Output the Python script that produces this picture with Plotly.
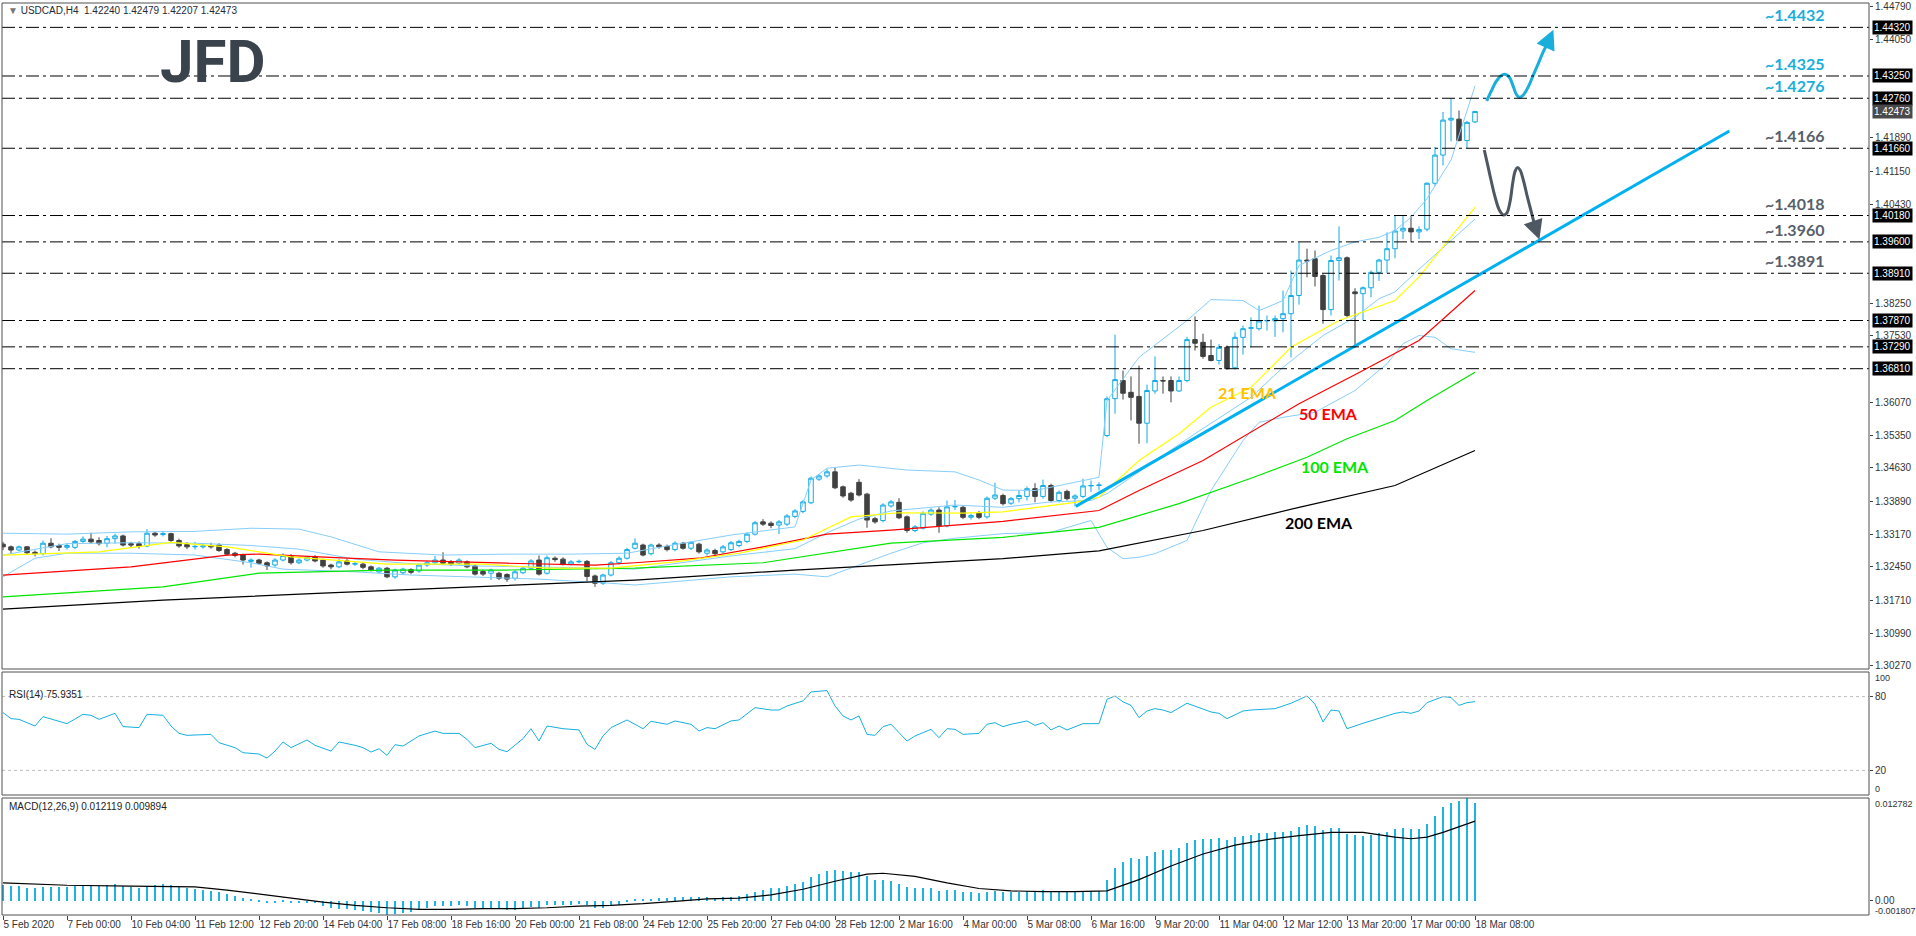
import plotly.graph_objects as go

W, H = 1916, 936

# ---------------- data ----------------
bars = list(range(185))

opens = [1.3295,1.3289,1.3282,1.3289,1.3277,1.3274,1.3297,1.3292,1.3288,1.3288,
         1.3301,1.3306,1.3303,1.3297,1.3307,1.3313,1.3296,1.3296,1.3291,1.3319,
         1.3316,1.3318,1.3303,1.3294,1.3289,1.3289,1.3292,1.3293,1.3283,1.3275,
         1.3271,1.3257,1.3260,1.3254,1.3249,1.3260,1.3269,1.3254,1.3260,1.3267,
         1.3260,1.3249,1.3245,1.3258,1.3251,1.3251,1.3245,1.3234,1.3242,1.3223,
         1.3232,1.3239,1.3236,1.3249,1.3254,1.3260,1.3256,1.3253,1.3256,1.3247,
         1.3235,1.3231,1.3231,1.3228,1.3220,1.3232,1.3242,1.3260,1.3231,1.3264,
         1.3262,1.3251,1.3256,1.3257,1.3225,1.3209,1.3227,1.3254,1.3264,1.3286,
         1.3293,1.3274,1.3293,1.3290,1.3283,1.3297,1.3286,1.3295,1.3275,1.3281,
         1.3278,1.3283,1.3292,1.3301,1.3317,1.3344,1.3341,1.3337,1.3339,1.3356,
         1.3367,1.3386,1.3438,1.3445,1.3454,1.3421,1.3407,1.3431,1.3405,1.3351,
         1.3347,1.3379,1.3387,1.3355,1.3325,1.3330,1.3361,1.3370,1.3335,1.3377,
         1.3376,1.3354,1.3364,1.3355,1.3396,1.3402,1.3385,1.3395,1.3400,1.3417,
         1.3400,1.3424,1.3391,1.3411,1.3396,1.3400,1.3423,1.3424,1.3534,1.3615,
         1.3655,1.3629,1.3620,1.3561,1.3632,1.3655,1.3655,1.3632,1.3655,1.3745,
         1.3739,1.3710,1.3699,1.3728,1.3683,1.3750,1.3770,1.3769,1.3786,1.3786,
         1.3791,1.3802,1.3842,1.3920,1.3923,1.3886,1.3811,1.3919,1.3925,1.3850,
         1.3846,1.3859,1.3893,1.3920,1.3945,1.3984,1.3990,1.3982,1.3988,1.4089,
         1.4151,1.4228,1.4230,1.4183,1.4224]
highs = [1.3300,1.3292,1.3292,1.3291,1.3281,1.3303,1.3308,1.3296,1.3297,1.3304,
         1.3312,1.3320,1.3310,1.3313,1.3318,1.3316,1.3300,1.3301,1.3328,1.3322,
         1.3324,1.3320,1.3307,1.3299,1.3300,1.3297,1.3298,1.3297,1.3286,1.3278,
         1.3274,1.3264,1.3263,1.3257,1.3264,1.3275,1.3273,1.3264,1.3269,1.3271,
         1.3263,1.3252,1.3262,1.3262,1.3257,1.3255,1.3248,1.3245,1.3245,1.3241,
         1.3243,1.3242,1.3252,1.3258,1.3269,1.3277,1.3260,1.3264,1.3259,1.3250,
         1.3239,1.3241,1.3234,1.3231,1.3238,1.3246,1.3262,1.3270,1.3270,1.3268,
         1.3266,1.3260,1.3261,1.3260,1.3228,1.3230,1.3258,1.3268,1.3287,1.3308,
         1.3296,1.3296,1.3297,1.3294,1.3301,1.3300,1.3302,1.3298,1.3286,1.3285,
         1.3293,1.3302,1.3305,1.3321,1.3346,1.3350,1.3345,1.3348,1.3361,1.3372,
         1.3392,1.3444,1.3449,1.3460,1.3464,1.3424,1.3410,1.3438,1.3408,1.3355,
         1.3385,1.3392,1.3396,1.3358,1.3337,1.3367,1.3374,1.3376,1.3391,1.3392,
         1.3380,1.3362,1.3368,1.3400,1.3430,1.3406,1.3399,1.3413,1.3422,1.3429,
         1.3437,1.3428,1.3413,1.3415,1.3405,1.3439,1.3435,1.3431,1.3620,1.3756,
         1.3677,1.3664,1.3688,1.3646,1.3708,1.3664,1.3664,1.3664,1.3751,1.3796,
         1.3758,1.3745,1.3735,1.3732,1.3761,1.3776,1.3794,1.3820,1.3798,1.3798,
         1.3853,1.3897,1.3959,1.3945,1.3941,1.3889,1.3930,1.3994,1.3928,1.3858,
         1.3862,1.3897,1.3923,1.3981,1.4018,1.4018,1.4018,1.3994,1.4091,1.4169,
         1.4246,1.4276,1.4249,1.4226,1.4248]
lows = [1.3282,1.3275,1.3279,1.3272,1.3268,1.3270,1.3286,1.3280,1.3283,1.3284,
        1.3298,1.3296,1.3292,1.3288,1.3296,1.3290,1.3288,1.3285,1.3288,1.3311,
        1.3312,1.3298,1.3287,1.3284,1.3283,1.3285,1.3285,1.3278,1.3270,1.3266,
        1.3250,1.3243,1.3249,1.3238,1.3245,1.3257,1.3250,1.3251,1.3257,1.3255,
        1.3243,1.3240,1.3242,1.3248,1.3247,1.3240,1.3235,1.3231,1.3220,1.3219,
        1.3229,1.3229,1.3232,1.3245,1.3251,1.3249,1.3247,1.3250,1.3242,1.3226,
        1.3225,1.3216,1.3216,1.3212,1.3215,1.3229,1.3238,1.3226,1.3228,1.3256,
        1.3248,1.3248,1.3253,1.3213,1.3201,1.3205,1.3224,1.3250,1.3261,1.3283,
        1.3268,1.3270,1.3285,1.3279,1.3279,1.3283,1.3282,1.3274,1.3270,1.3270,
        1.3274,1.3280,1.3288,1.3297,1.3314,1.3335,1.3330,1.3317,1.3335,1.3352,
        1.3363,1.3383,1.3434,1.3441,1.3416,1.3397,1.3388,1.3400,1.3331,1.3340,
        1.3343,1.3375,1.3350,1.3320,1.3321,1.3327,1.3357,1.3320,1.3332,1.3370,
        1.3350,1.3349,1.3350,1.3351,1.3392,1.3380,1.3381,1.3387,1.3391,1.3387,
        1.3395,1.3387,1.3387,1.3391,1.3378,1.3396,1.3410,1.3413,1.3530,1.3582,
        1.3613,1.3567,1.3516,1.3517,1.3626,1.3626,1.3607,1.3630,1.3651,1.3721,
        1.3703,1.3697,1.3690,1.3679,1.3679,1.3712,1.3728,1.3765,1.3765,1.3751,
        1.3761,1.3706,1.3822,1.3882,1.3862,1.3780,1.3798,1.3875,1.3794,1.3728,
        1.3787,1.3838,1.3874,1.3891,1.3924,1.3966,1.3959,1.3966,1.3983,1.4083,
        1.4128,1.4181,1.4181,1.4166,1.4221]
closes = [1.3289,1.3282,1.3289,1.3276,1.3274,1.3297,1.3289,1.3288,1.3292,1.3301,
          1.3306,1.3300,1.3296,1.3307,1.3313,1.3293,1.3293,1.3290,1.3319,1.3315,
          1.3318,1.3303,1.3291,1.3289,1.3290,1.3291,1.3289,1.3281,1.3273,1.3270,
          1.3260,1.3260,1.3253,1.3247,1.3260,1.3270,1.3254,1.3260,1.3266,1.3258,
          1.3247,1.3245,1.3256,1.3251,1.3252,1.3244,1.3238,1.3242,1.3223,1.3238,
          1.3240,1.3233,1.3249,1.3254,1.3260,1.3253,1.3251,1.3260,1.3245,1.3229,
          1.3229,1.3238,1.3220,1.3218,1.3234,1.3242,1.3258,1.3229,1.3265,1.3261,
          1.3251,1.3256,1.3257,1.3224,1.3209,1.3227,1.3254,1.3264,1.3283,1.3297,
          1.3271,1.3293,1.3289,1.3283,1.3297,1.3286,1.3299,1.3278,1.3282,1.3274,
          1.3289,1.3298,1.3301,1.3317,1.3342,1.3339,1.3336,1.3344,1.3357,1.3368,
          1.3388,1.3440,1.3445,1.3454,1.3419,1.3401,1.3392,1.3403,1.3348,1.3344,
          1.3381,1.3388,1.3353,1.3325,1.3333,1.3363,1.3370,1.3335,1.3377,1.3378,
          1.3354,1.3358,1.3354,1.3396,1.3403,1.3384,1.3395,1.3402,1.3417,1.3400,
          1.3424,1.3391,1.3409,1.3395,1.3401,1.3423,1.3424,1.3425,1.3615,1.3657,
          1.3627,1.3618,1.3561,1.3633,1.3655,1.3654,1.3632,1.3655,1.3745,1.3737,
          1.3708,1.3699,1.3728,1.3681,1.3750,1.3769,1.3771,1.3786,1.3787,1.3791,
          1.3802,1.3842,1.3920,1.3918,1.3884,1.3811,1.3919,1.3925,1.3798,1.3846,
          1.3859,1.3893,1.3920,1.3945,1.3984,1.3990,1.3982,1.3987,1.4089,1.4151,
          1.4228,1.4232,1.4183,1.4223,1.4247]

ema21_x = [0, 12, 21, 28, 36, 48, 60, 68, 76, 84, 92, 100, 106, 112, 120, 125, 134, 137, 142, 147, 151, 156, 161, 167, 174, 177, 181, 184]
ema21_y = [1.3271, 1.3278, 1.3299, 1.3289, 1.3267, 1.3251, 1.3251, 1.3242, 1.3242, 1.3256, 1.3275, 1.3304, 1.3355, 1.3364, 1.3363, 1.3366, 1.3387, 1.3398, 1.3479, 1.3538, 1.3596, 1.3640, 1.3728, 1.3787, 1.3831, 1.3883, 1.3971, 1.4036]

ema50_x = [0, 16, 28, 32, 43, 49, 63, 74, 79, 87, 95, 103, 111, 125, 137, 142, 150, 162, 170, 177, 184]
ema50_y = [1.3227, 1.3245, 1.3271, 1.3273, 1.3264, 1.3260, 1.3253, 1.3249, 1.3254, 1.3264, 1.3289, 1.3317, 1.3326, 1.3345, 1.3369, 1.3413, 1.3479, 1.3604, 1.3677, 1.3743, 1.3853]

ema100_x = [0, 20, 32, 48, 63, 79, 95, 103, 111, 125, 137, 147, 156, 163, 168, 174, 178, 184]
ema100_y = [1.3179, 1.3201, 1.3231, 1.3238, 1.3238, 1.3242, 1.3254, 1.3275, 1.3297, 1.3310, 1.3332, 1.3384, 1.3440, 1.3486, 1.3527, 1.3567, 1.3611, 1.3673]

ema200_x = [0, 20, 40, 59, 79, 99, 125, 137, 150, 162, 174, 184]
ema200_y = [1.3152, 1.3172, 1.3187, 1.3201, 1.3216, 1.3238, 1.3263, 1.3280, 1.3325, 1.3376, 1.3424, 1.3501]

bb_up_x = [0, 8, 16, 24, 31, 37, 41, 47, 55, 63, 71, 78, 83, 91, 99, 101, 103, 107, 113, 119, 122, 125, 129, 137, 138, 142, 148, 151, 155, 157, 158, 160, 162, 166, 169, 172, 174, 176, 178, 181, 184]
bb_up_y = [1.3319, 1.3317, 1.3322, 1.3323, 1.3330, 1.3328, 1.3311, 1.3278, 1.3271, 1.3273, 1.3273, 1.3275, 1.3291, 1.3315, 1.3333, 1.3436, 1.3462, 1.3469, 1.3458, 1.3454, 1.3436, 1.3414, 1.3413, 1.3442, 1.3611, 1.3706, 1.3787, 1.3833, 1.3831, 1.3809, 1.3816, 1.3831, 1.3908, 1.3941, 1.3960, 1.3970, 1.3985, 1.4014, 1.4055, 1.4140, 1.4303]

bb_mid_x = [0, 8, 16, 24, 31, 37, 44, 51, 59, 67, 75, 79, 91, 99, 103, 107, 111, 119, 125, 131, 136, 138, 144, 149, 156, 160, 165, 169, 172, 174, 177, 184]
bb_mid_y = [1.3271, 1.3296, 1.3298, 1.3297, 1.3292, 1.3284, 1.3262, 1.3252, 1.3247, 1.3245, 1.3242, 1.3240, 1.3269, 1.3285, 1.3320, 1.3350, 1.3368, 1.3381, 1.3376, 1.3388, 1.3391, 1.3406, 1.3479, 1.3538, 1.3618, 1.3684, 1.3754, 1.3794, 1.3835, 1.3850, 1.3900, 1.4010]

bb_lo_x = [0, 4, 8, 16, 24, 31, 35, 44, 51, 59, 67, 75, 79, 91, 99, 103, 111, 115, 119, 125, 131, 136, 138, 140, 142, 144, 148, 151, 155, 157, 160, 164, 169, 173, 175, 177, 179, 181, 184]
bb_lo_y = [1.3223, 1.3264, 1.3275, 1.3275, 1.3271, 1.3254, 1.3240, 1.3234, 1.3227, 1.3223, 1.3218, 1.3210, 1.3205, 1.3223, 1.3229, 1.3223, 1.3275, 1.3298, 1.3308, 1.3318, 1.3321, 1.3347, 1.3288, 1.3263, 1.3266, 1.3274, 1.3303, 1.3413, 1.3523, 1.3563, 1.3574, 1.3585, 1.3633, 1.3692, 1.3736, 1.3754, 1.3750, 1.3725, 1.3717]

trend_x = [134.1, 215.8]
trend_y = [1.3378, 1.4204]

levels = [1.4432, 1.4325, 1.4276, 1.4166, 1.4018, 1.3960, 1.3891, 1.3787, 1.3729, 1.3681]
level_notes = ["~1.4432", "~1.4325", "~1.4276", "~1.4166", "~1.4018", "~1.3960", "~1.3891"]
level_note_up = [True, True, True, False, False, False, False]
current_price = 1.42473

# axis ticks that are not hidden behind the level boxes
price_ticks = [1.4479, 1.4405, 1.4189, 1.4115, 1.4043, 1.3825,
               1.3753, 1.3607, 1.3535, 1.3463, 1.3389, 1.3317, 1.3245, 1.3171, 1.3099, 1.3027]

rsi_x = [0,1,2,4,5,8,10,11,12,14,15,17,18,20,21,22,23,26,27,29,30,32,33,34,35,36,38,39,41,42,
         44,45,46,47,48,49,50,52,54,55,57,58,59,61,62,63,65,66,67,68,70,72,73,74,75,76,78,80,81,83,
         84,86,87,88,89,91,92,94,96,97,98,100,101,102,103,104,105,106,107,108,109,110,111,112,113,114,116,117,118,119,
         120,122,123,124,125,126,128,129,130,131,132,133,135,137,138,139,140,141,142,143,144,145,146,148,149,151,152,153,155,156,
         159,161,163,164,165,166,167,168,170,172,174,175,176,177,178,180,181,182,183,184]
rsi_y = [67.0,62.1,61.5,56.1,63.7,58.0,65.6,64.8,61.5,66.4,55.6,54.8,65.6,64.8,56.1,50.1,48.5,49.3,42.5,38.5,34.4,33.3,30.0,35.7,43.1,38.5,44.7,40.4,35.7,43.1,
         40.4,38.5,34.9,37.6,32.2,40.9,39.8,48.0,52.0,50.1,50.1,45.2,38.5,42.0,37.1,35.2,45.8,53.9,43.9,56.1,53.9,52.9,41.2,37.1,48.0,54.8,61.0,53.9,59.9,57.5,
         60.2,57.5,52.0,54.8,53.9,60.2,61.0,71.0,69.1,69.1,72.4,76.5,83.8,84.6,84.9,72.4,64.3,61.0,64.3,49.3,48.5,55.6,57.5,50.7,43.9,48.0,53.4,46.6,53.9,53.4,
         49.3,50.1,57.5,58.8,55.6,57.5,60.2,56.6,58.8,52.9,56.1,52.9,58.0,58.0,77.8,80.5,75.7,72.9,62.9,68.3,70.2,69.1,67.0,74.6,72.4,67.5,66.4,62.1,68.3,69.1,
         70.2,74.6,80.5,73.8,59.4,69.1,68.3,53.9,58.3,62.1,66.4,67.5,66.4,68.3,75.1,80.0,79.2,72.9,75.1,75.9]

macd_hist = [0.0019,0.0018,0.0018,0.0016,0.0015,0.0017,0.0017,0.0017,
             0.0017,0.0018,0.0019,0.0019,0.0018,0.0019,0.0020,0.0018,
             0.0017,0.0016,0.0018,0.0019,0.0020,0.0019,0.0017,0.0015,
             0.0014,0.0013,0.0012,0.0010,0.0008,0.0006,0.0003,0.0001,
             -0.0001,-0.0003,-0.0003,-0.0002,-0.0003,-0.0003,-0.0003,-0.0003,
             -0.0007,-0.0009,-0.0010,-0.0011,-0.0012,-0.0013,-0.0014,-0.0015,
             -0.0018,-0.0017,-0.0015,-0.0014,-0.0011,-0.0009,-0.0007,-0.0007,
             -0.0007,-0.0006,-0.0007,-0.0009,-0.0010,-0.0010,-0.0011,-0.0012,
             -0.0012,-0.0010,-0.0008,-0.0009,-0.0006,-0.0005,-0.0005,-0.0005,
             -0.0004,-0.0006,-0.0009,-0.0009,-0.0007,-0.0005,-0.0002,0.0001,
             0.0001,0.0002,0.0003,0.0003,0.0004,0.0004,0.0005,0.0004,
             0.0004,0.0003,0.0004,0.0005,0.0006,0.0008,0.0011,0.0013,
             0.0015,0.0016,0.0018,0.0020,0.0023,0.0029,0.0033,0.0037,
             0.0038,0.0037,0.0035,0.0035,0.0030,0.0026,0.0025,0.0024,
             0.0021,0.0017,0.0015,0.0015,0.0015,0.0012,0.0013,0.0013,
             0.0011,0.0010,0.0009,0.0011,0.0012,0.0011,0.0011,0.0011,
             0.0012,0.0012,0.0013,0.0011,0.0011,0.0010,0.0010,0.0011,
             0.0012,0.0012,0.0026,0.0040,0.0048,0.0053,0.0052,0.0056,
             0.0060,0.0063,0.0063,0.0065,0.0072,0.0076,0.0077,0.0077,
             0.0078,0.0076,0.0079,0.0081,0.0082,0.0084,0.0084,0.0085,
             0.0085,0.0087,0.0092,0.0094,0.0093,0.0088,0.0091,0.0091,
             0.0083,0.0082,0.0081,0.0082,0.0084,0.0086,0.0089,0.0090,
             0.0089,0.0089,0.0096,0.0105,0.0116,0.0122,0.0124,0.0128,0.0121]

sig_x = [0, 8, 16, 24, 28, 32, 36, 40, 44, 48, 52, 56, 60, 64, 68, 72, 76, 80, 84, 88, 92, 96, 100, 104, 108, 110, 114, 118, 122, 126, 130, 134, 138, 142, 146, 150, 154, 158, 162, 166, 170, 174, 176, 178, 180, 182, 184]
sig_y = [0.0022, 0.0019, 0.0018, 0.0017, 0.0013, 0.0008, 0.0003, -0.0002, -0.0006, -0.0009, -0.0011, -0.0011, -0.0010, -0.0010, -0.0009, -0.0007, -0.0006, -0.0004, -0.0001, 0.0002, 0.0003, 0.0007, 0.0014, 0.0024, 0.0033, 0.0034, 0.0030, 0.0022, 0.0015, 0.0012, 0.0011, 0.0011, 0.0012, 0.0026, 0.0043, 0.0058, 0.0069, 0.0076, 0.0081, 0.0085, 0.0085, 0.0079, 0.0077, 0.0079, 0.0085, 0.0092, 0.0099]

tick_labels = ["5 Feb 2020", "7 Feb 00:00", "10 Feb 04:00", "11 Feb 12:00", "12 Feb 20:00",
               "14 Feb 04:00", "17 Feb 08:00", "18 Feb 16:00", "20 Feb 00:00", "21 Feb 08:00",
               "24 Feb 12:00", "25 Feb 20:00", "27 Feb 04:00", "28 Feb 12:00", "2 Mar 16:00",
               "4 Mar 00:00", "5 Mar 08:00", "6 Mar 16:00", "9 Mar 20:00", "11 Mar 04:00",
               "12 Mar 12:00", "13 Mar 20:00", "17 Mar 00:00", "18 Mar 08:00"]
tick_bars = list(range(0, 185, 8))

# hand-drawn scenario arrows (bar index, price)
up_path_x = [185.46, 186.0, 186.63, 187.21, 187.75, 188.29, 188.79, 189.21, 189.54, 190.04, 190.67, 191.29, 191.92, 192.54, 192.96]
up_path_y = [1.4270, 1.42905, 1.43125, 1.4325, 1.43287, 1.43221, 1.43015, 1.42832, 1.42781, 1.42832, 1.43015, 1.43272, 1.43529, 1.43785, 1.43932]
up_tip = (193.8, 1.4427)
dn_path_x = [185.16, 185.54, 186.0, 186.5, 187.04, 187.54, 187.96, 188.38, 188.71, 189.0, 189.29, 189.63, 190.04, 190.54, 191.08, 191.5]
dn_path_y = [1.41622, 1.41329, 1.40962, 1.40594, 1.40302, 1.40192, 1.40229, 1.40484, 1.40889, 1.41146, 1.41234, 1.41182, 1.40962, 1.40594, 1.40229, 1.39934]
dn_tip = (192.05, 1.3965)

# ---------------- styling / geometry ----------------
CYAN = "#12ABE3"
DARK = "#404040"
BB = "#87CEFA"
FONT = "Liberation Sans"

X_L, X_R = 2, 1869
MAIN = (3, 669)
RSI = (672, 795)
MACD = (798, 915)

def dom_y(top, bot):
    return [1 - bot / H, 1 - top / H]

def px2bar(px):
    return (px - 3) / 8.0

def px2price(py):
    return 1.4479 - (py - 6) / 4545.0

fig = go.Figure()

fig.add_trace(go.Candlestick(
    x=bars, open=opens, high=highs, low=lows, close=closes,
    increasing=dict(line=dict(color=CYAN, width=1), fillcolor="white"),
    decreasing=dict(line=dict(color=DARK, width=1), fillcolor=DARK),
    whiskerwidth=0, xaxis="x", yaxis="y", hoverinfo="skip"))

for xs, ys in [(bb_up_x, bb_up_y), (bb_mid_x, bb_mid_y), (bb_lo_x, bb_lo_y)]:
    fig.add_trace(go.Scatter(x=xs, y=ys, mode="lines", line=dict(color=BB, width=1),
                             xaxis="x", yaxis="y", hoverinfo="skip"))
for xs, ys, col in [(ema200_x, ema200_y, "#000000"), (ema100_x, ema100_y, "#00E600"),
                    (ema50_x, ema50_y, "#FF0000"), (ema21_x, ema21_y, "#FFFF00")]:
    fig.add_trace(go.Scatter(x=xs, y=ys, mode="lines", line=dict(color=col, width=1.2),
                             xaxis="x", yaxis="y", hoverinfo="skip"))

fig.add_trace(go.Scatter(x=trend_x, y=trend_y, mode="lines", line=dict(color="#00B0F0", width=3),
                         xaxis="x", yaxis="y", hoverinfo="skip"))

fig.add_trace(go.Scatter(x=up_path_x, y=up_path_y, mode="lines", line=dict(color="#1AAEDB", width=3, shape="spline"),
                         xaxis="x", yaxis="y", hoverinfo="skip"))
fig.add_trace(go.Scatter(x=dn_path_x, y=dn_path_y, mode="lines", line=dict(color="#4E5862", width=3, shape="spline"),
                         xaxis="x", yaxis="y", hoverinfo="skip"))

# RSI
fig.add_trace(go.Scatter(x=rsi_x, y=rsi_y, mode="lines", line=dict(color="#16B0E0", width=1),
                         xaxis="x", yaxis="y2", hoverinfo="skip"))
# MACD
fig.add_trace(go.Bar(x=bars, y=macd_hist, width=0.2, marker=dict(color="#1CB4E2", line=dict(width=0)),
                     xaxis="x", yaxis="y3", hoverinfo="skip"))
fig.add_trace(go.Scatter(x=sig_x, y=sig_y, mode="lines", line=dict(color="#000000", width=1.2),
                         xaxis="x", yaxis="y3", hoverinfo="skip"))

shapes = []
for lv in levels:
    shapes.append(dict(type="line", xref="x domain", yref="y", x0=0, x1=1, y0=lv, y1=lv,
                       line=dict(color="#000000", width=1, dash="13px,4px,3px,4px")))
for lv in [80, 20]:
    shapes.append(dict(type="line", xref="x domain", yref="y2", x0=0, x1=1, y0=lv, y1=lv,
                       line=dict(color="#BDBDBD", width=1, dash="3px,3px")))
for yr in ["y domain", "y2 domain", "y3 domain"]:
    shapes.append(dict(type="rect", xref="x domain", yref=yr, x0=0, x1=1, y0=0, y1=1,
                       line=dict(color="#505050", width=1), fillcolor="rgba(0,0,0,0)"))

ann = []
ann.append(dict(xref="paper", yref="paper", x=6 / W, y=1 - 11 / H, xanchor="left", yanchor="middle",
                text='<span style="color:#777">▼</span> USDCAD,H4  1.42240 1.42479 1.42207 1.42473',
                showarrow=False, font=dict(family=FONT, size=10, color="#1E2A38")))
ann.append(dict(xref="paper", yref="paper", x=212 / W, y=1 - 62 / H, xanchor="center", yanchor="middle",
                text="<b>JFD</b>", showarrow=False, font=dict(family="Roboto", size=60, color="#3A434C")))
ann.append(dict(xref="paper", yref="paper", x=7 / W, y=1 - 694 / H, xanchor="left", yanchor="middle",
                text="RSI(14) 75.9351", showarrow=False, font=dict(family=FONT, size=10, color="#222")))
ann.append(dict(xref="paper", yref="paper", x=7 / W, y=1 - 806 / H, xanchor="left", yanchor="middle",
                text="MACD(12,26,9) 0.012119 0.009894", showarrow=False, font=dict(family=FONT, size=10, color="#222")))

for lv in levels:
    ann.append(dict(xref="paper", yref="y", x=1872 / W, y=lv, xanchor="left", yanchor="middle",
                    text="%.5f" % lv, showarrow=False, bgcolor="#000000", borderpad=1,
                    font=dict(family=FONT, size=10, color="#FFFFFF")))
ann.append(dict(xref="paper", yref="y", x=1872 / W, y=current_price, xanchor="left", yanchor="middle",
                text="%.5f" % current_price, showarrow=False, bgcolor="#4A4A4A", borderpad=1,
                font=dict(family=FONT, size=10, color="#FFFFFF")))

note_x = px2bar(1794)
for txt, lv, up in zip(level_notes, levels, level_note_up):
    ann.append(dict(xref="x", yref="y", x=note_x, y=lv, xanchor="center", yanchor="bottom", yshift=1,
                    text="<b>%s</b>" % txt, showarrow=False,
                    font=dict(family="Lato", size=16, color="#1AAEDB" if up else "#57606A")))

for txt, bx, py, col in [("21 EMA", 1247, 392, "#FFC000"), ("50 EMA", 1328, 413, "#FF0000"),
                         ("100 EMA", 1335, 466, "#00E600"), ("200 EMA", 1319, 522, "#000000")]:
    ann.append(dict(xref="x", yref="y", x=px2bar(bx), y=px2price(py), xanchor="center", yanchor="middle",
                    text="<b>%s</b>" % txt, showarrow=False, font=dict(family="Lato", size=16, color=col)))

ann.append(dict(xref="x", yref="y", x=up_tip[0], y=up_tip[1], axref="x", ayref="y",
                ax=up_path_x[-1], ay=up_path_y[-1], text="", showarrow=True, arrowhead=2,
                arrowsize=1.3, arrowwidth=3, arrowcolor="#1AAEDB", standoff=0))
ann.append(dict(xref="x", yref="y", x=dn_tip[0], y=dn_tip[1], axref="x", ayref="y",
                ax=dn_path_x[-1], ay=dn_path_y[-1], text="", showarrow=True, arrowhead=2,
                arrowsize=1.3, arrowwidth=3, arrowcolor="#4E5862", standoff=0))

for txt, py in [("100", 678), ("0", 789), ("0.012782", 804), ("-0.001807", 911)]:
    ann.append(dict(xref="paper", yref="paper", x=1873 / W, y=1 - py / H, xanchor="left", yanchor="middle",
                    text=txt, showarrow=False, font=dict(family=FONT, size=9, color="#333")))

fig.update_layout(
    width=W, height=H, margin=dict(l=0, r=0, t=0, b=0, autoexpand=False),
    paper_bgcolor="white", plot_bgcolor="white", showlegend=False,
    boxgap=0.25, boxgroupgap=0.25, bargap=0,
    shapes=shapes, annotations=ann,
    xaxis=dict(domain=[X_L / W, X_R / W], range=[px2bar(X_L), px2bar(X_R)], anchor="y3",
               tickvals=tick_bars, ticktext=tick_labels, ticks="outside", ticklen=4, tickcolor="#404040",
               ticklabelposition="outside right", tickangle=0, automargin=False,
               tickfont=dict(family=FONT, size=10, color="#333"), showgrid=False, zeroline=False,
               showline=False, rangeslider=dict(visible=False), fixedrange=True),
    yaxis=dict(domain=dom_y(*MAIN), range=[px2price(MAIN[1]), px2price(MAIN[0])], side="right", anchor="x",
               tickvals=price_ticks, ticktext=["%.5f" % v for v in price_ticks], ticks="outside", ticklen=3,
               tickcolor="#404040", tickfont=dict(family=FONT, size=10, color="#333"), automargin=False,
               showgrid=False, zeroline=False, fixedrange=True),
    yaxis2=dict(domain=dom_y(*RSI), range=[0, 100], side="right", anchor="x", automargin=False,
                tickvals=[20, 80], ticktext=["20", "80"], ticks="outside", ticklen=3, tickcolor="#404040",
                tickfont=dict(family=FONT, size=10, color="#333"), showgrid=False, zeroline=False, fixedrange=True),
    yaxis3=dict(domain=dom_y(*MACD), range=[-0.001807, 0.012782], side="right", anchor="x", automargin=False,
                tickvals=[0], ticktext=["0.00"], ticks="outside", ticklen=3, tickcolor="#404040",
                tickfont=dict(family=FONT, size=10, color="#333"), showgrid=False, zeroline=False, fixedrange=True),
)

fig.write_html("out.html")
